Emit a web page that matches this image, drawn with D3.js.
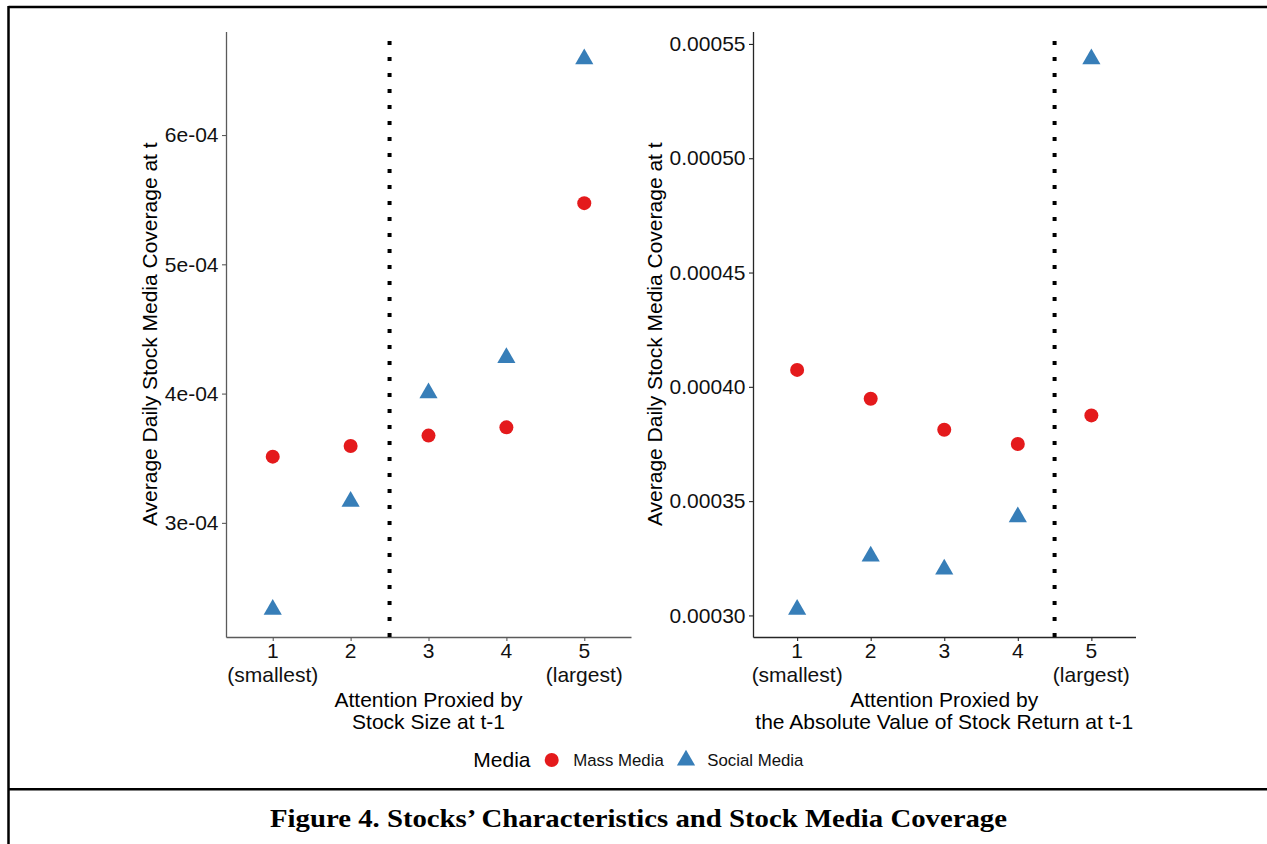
<!DOCTYPE html>
<html><head><meta charset="utf-8">
<script src="https://cdn.jsdelivr.net/npm/d3@7"></script>
<style>body{margin:0;background:#fff}svg{display:block}</style>
</head><body><svg id="c" width="1267" height="844"></svg>
<script>
// ---- data ----
const quintiles = [1, 2, 3, 4, 5];
const xTickLines = [["1", "(smallest)"], ["2"], ["3"], ["4"], ["5", "(largest)"]];
const seriesNames = ["Mass Media", "Social Media"];
const seriesColors = ["#E41A1C", "#377EB8"];
const legendTitle = "Media";

const sizeMass   = [3.512e-4, 3.595e-4, 3.675e-4, 3.739e-4, 5.473e-4];
const sizeSocial = [2.330e-4, 3.166e-4, 4.005e-4, 4.277e-4, 6.588e-4];
const retMass    = [4.074e-4, 3.948e-4, 3.812e-4, 3.750e-4, 3.875e-4];
const retSocial  = [3.026e-4, 3.259e-4, 3.202e-4, 3.431e-4, 5.434e-4];

const leftYTicks = [3e-4, 4e-4, 5e-4, 6e-4];
const leftYTickLabels = ["3e-04", "4e-04", "5e-04", "6e-04"];
const rightYTicks = [0.00030, 0.00035, 0.00040, 0.00045, 0.00050, 0.00055];
const rightYTickLabels = ["0.00030", "0.00035", "0.00040", "0.00045", "0.00050", "0.00055"];

const yTitle = "Average Daily Stock Media Coverage at t";
const leftXTitle = ["Attention Proxied by", "Stock Size at t-1"];
const rightXTitle = ["Attention Proxied by", "the Absolute Value of Stock Return at t-1"];
const cutoffs = [2.5, 4.5];
const caption = "Figure 4. Stocks\u2019 Characteristics and Stock Media Coverage";

// ---- drawing ----
const svg = d3.select("#c");
const FONT = "'Liberation Sans', Arial, Helvetica, sans-serif";
svg.append("rect").attr("width", 1267).attr("height", 844).attr("fill", "#fff");

// frame
svg.append("line").attr("x1", 8.5).attr("x2", 1267).attr("y1", 7).attr("y2", 7).attr("stroke", "#000").attr("stroke-width", 2.5);
svg.append("line").attr("x1", 8.5).attr("x2", 8.5).attr("y1", 6).attr("y2", 844).attr("stroke", "#000").attr("stroke-width", 2.5);
svg.append("line").attr("x1", 8.5).attr("x2", 1267).attr("y1", 789.3).attr("y2", 789.3).attr("stroke", "#000").attr("stroke-width", 2.5);

const panels = [
  {x0: 226, x1: 631, y0: 31.5, y1: 637, axisColor: "#5a5a5a", mass: sizeMass, social: sizeSocial,
   yTicks: leftYTicks, yLabels: leftYTickLabels, xTitle: leftXTitle, cutoff: cutoffs[0], yTitleX: 156.5},
  {x0: 753, x1: 1135.5, y0: 31.5, y1: 637, axisColor: "#262626", mass: retMass, social: retSocial,
   yTicks: rightYTicks, yLabels: rightYTickLabels, xTitle: rightXTitle, cutoff: cutoffs[1], yTitleX: 661.5}
];

const triSize = Math.pow(10.5 / 2, 2) * 3 * Math.sqrt(3);
const triPath = d3.symbol(d3.symbolTriangle, triSize)();

panels.forEach(p => {
  const x = d3.scaleLinear().domain([0.4, 5.6]).range([p.x0, p.x1]);
  const all = p.mass.concat(p.social);
  const lo = d3.min(all), hi = d3.max(all), pad = 0.05 * (hi - lo);
  const y = d3.scaleLinear().domain([lo - pad, hi + pad]).range([p.y1, p.y0]);

  // y axis
  const ga = svg.append("g").attr("transform", `translate(${p.x0},0)`)
    .call(d3.axisLeft(y).tickValues(p.yTicks).tickFormat((d, i) => p.yLabels[i]).tickSize(4).tickSizeOuter(0).tickPadding(3.5));
  ga.selectAll("path.domain").attr("stroke", p.axisColor).attr("stroke-width", 1.3);
  ga.selectAll(".tick line").attr("stroke", p.axisColor).attr("stroke-width", 1.1);
  ga.selectAll(".tick text").attr("font-family", FONT).attr("font-size", 21).attr("fill", "#111");

  // x axis
  const gx = svg.append("g").attr("transform", `translate(0,${p.y1})`)
    .call(d3.axisBottom(x).tickValues(quintiles).tickFormat("").tickSize(4).tickSizeOuter(0));
  gx.selectAll("path.domain").attr("stroke", p.axisColor).attr("stroke-width", 1.3);
  gx.selectAll(".tick line").attr("stroke", p.axisColor).attr("stroke-width", 1.1);
  quintiles.forEach((q, i) => {
    const t = svg.append("text").attr("x", x(q)).attr("text-anchor", "middle")
      .attr("font-family", FONT).attr("font-size", 21).attr("fill", "#111");
    xTickLines[i].forEach((ln, j) => {
      t.append("tspan").attr("x", x(q)).attr("y", 658.3 + j * 23.2).text(ln);
    });
  });

  // x title
  p.xTitle.forEach((ln, j) => {
    svg.append("text").attr("x", (p.x0 + p.x1) / 2).attr("y", 706.5 + j * 22)
      .attr("text-anchor", "middle").attr("font-family", FONT).attr("font-size", 21).attr("fill", "#000").text(ln);
  });

  // y title
  svg.append("text").attr("transform", `translate(${p.yTitleX},${(p.y0 + p.y1) / 2}) rotate(-90)`)
    .attr("text-anchor", "middle").attr("font-family", FONT).attr("font-size", 21).attr("fill", "#000").text(yTitle);

  // dotted cutoff line
  svg.append("line").attr("x1", x(p.cutoff)).attr("x2", x(p.cutoff)).attr("y1", p.y1).attr("y2", p.y0)
    .attr("stroke", "#000").attr("stroke-width", 4).attr("stroke-dasharray", "4,12");

  // points
  svg.append("g").selectAll("circle").data(p.mass).join("circle")
    .attr("cx", (d, i) => x(quintiles[i])).attr("cy", d => y(d)).attr("r", 7).attr("fill", seriesColors[0]);
  svg.append("g").selectAll("path").data(p.social).join("path")
    .attr("d", triPath).attr("transform", (d, i) => `translate(${x(quintiles[i])},${y(d)})`).attr("fill", seriesColors[1]);
});

// legend
svg.append("text").attr("x", 473.3).attr("y", 767.3).attr("font-family", FONT).attr("font-size", 21).attr("fill", "#000").text(legendTitle);
svg.append("circle").attr("cx", 551.7).attr("cy", 760).attr("r", 7).attr("fill", seriesColors[0]);
svg.append("text").attr("x", 573.3).attr("y", 765.6).attr("font-family", FONT).attr("font-size", 16.8).attr("fill", "#111").text(seriesNames[0]);
svg.append("path").attr("d", triPath).attr("transform", "translate(686,760.2)").attr("fill", seriesColors[1]);
svg.append("text").attr("x", 707.3).attr("y", 765.6).attr("font-family", FONT).attr("font-size", 16.8).attr("fill", "#111").text(seriesNames[1]);

// caption
svg.append("text").attr("x", 638.5).attr("y", 827).attr("text-anchor", "middle")
  .attr("font-family", "'Liberation Serif', 'Times New Roman', serif").attr("font-weight", "bold").attr("font-size", 26)
  .attr("textLength", 737).attr("lengthAdjust", "spacingAndGlyphs").text(caption);
</script></body></html>
